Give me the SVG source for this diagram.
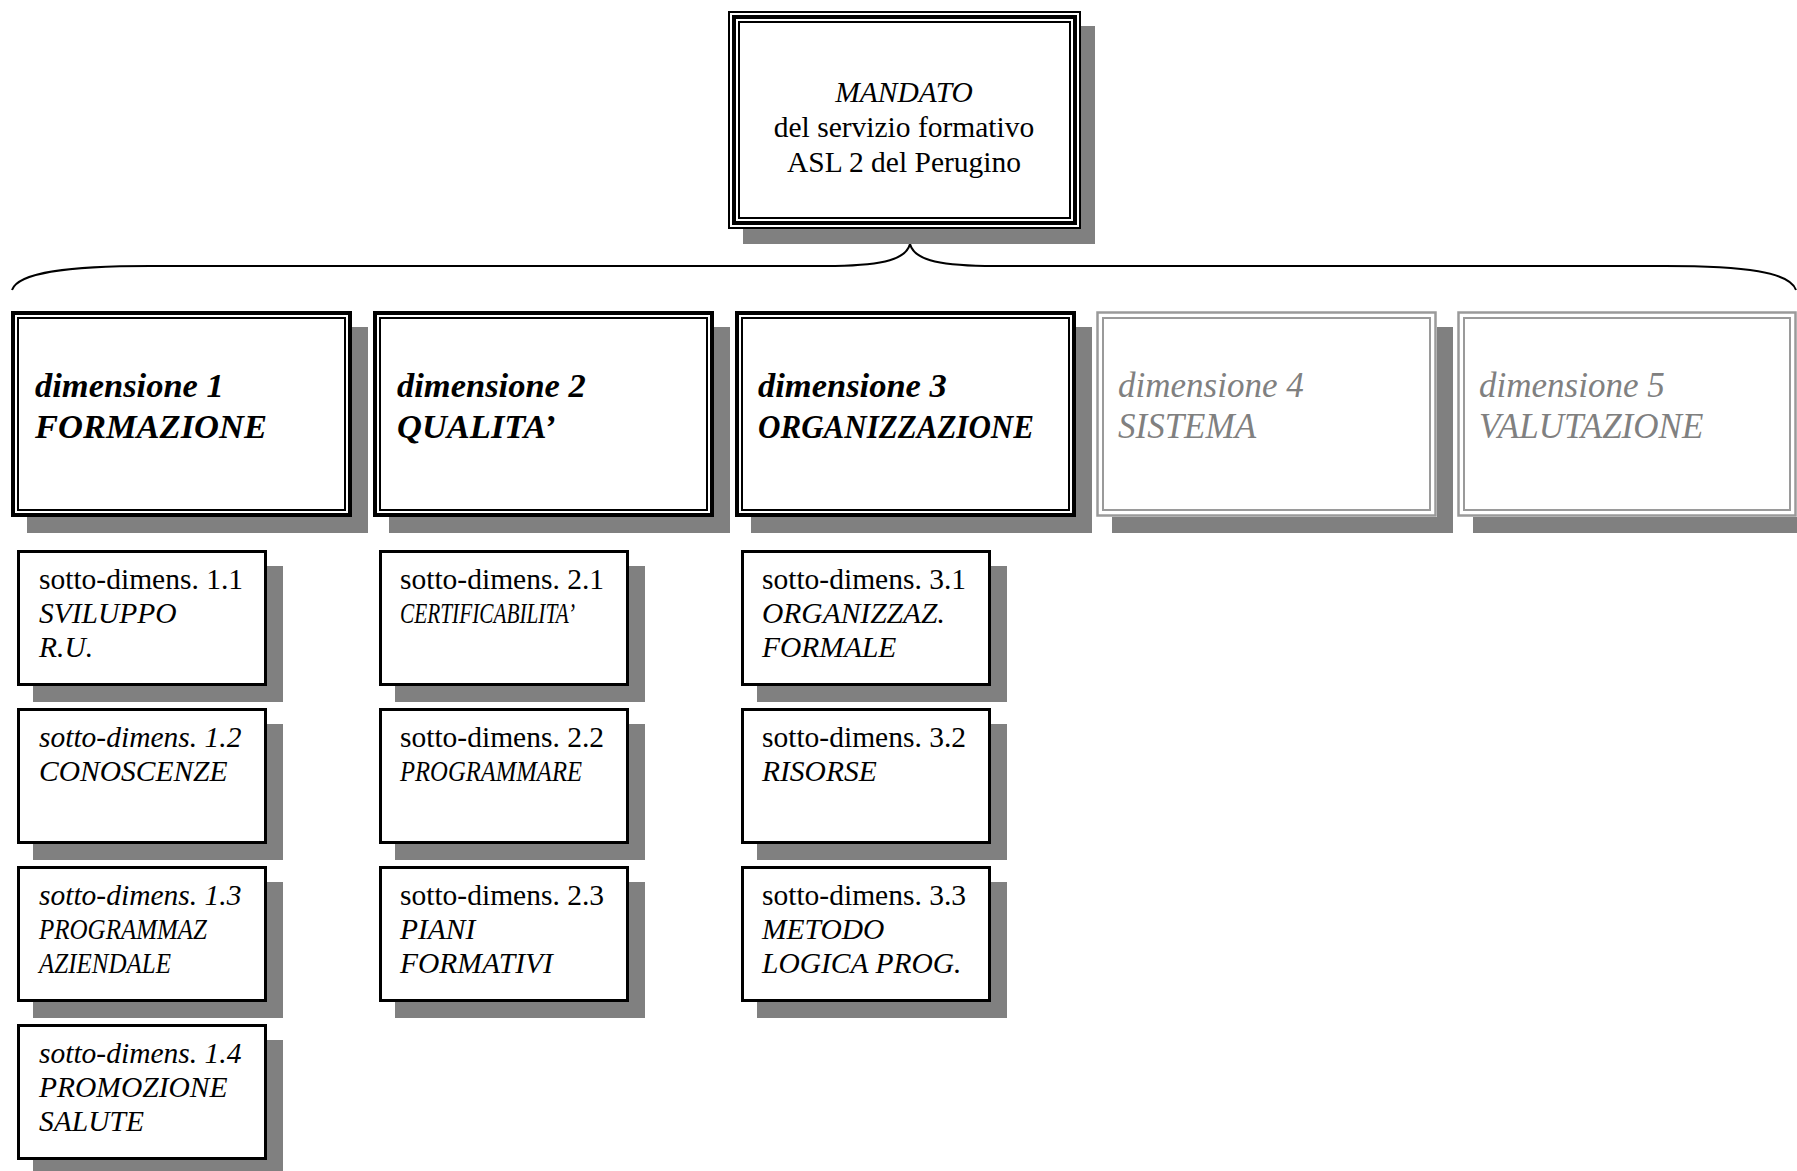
<svg xmlns="http://www.w3.org/2000/svg" width="1797" height="1171" viewBox="0 0 1797 1171">
<style>
text{font-family:"Liberation Serif","Times New Roman",serif;fill:#000}
.shadow{fill:#808080;stroke:none}
.bg{fill:#fff;stroke:none}
.k4{fill:none;stroke:#000;stroke-width:4}
.k2{fill:none;stroke:#000;stroke-width:2}
.g3{fill:none;stroke:#9a9a9a;stroke-width:2.5}
.g2{fill:none;stroke:#9a9a9a;stroke-width:2}
.sb{fill:#fff;stroke:#000;stroke-width:3}
.top{font-size:29.5px;text-anchor:middle}
.dim{font-size:34.5px;font-weight:bold;font-style:italic}
.dimg{font-size:35px;font-style:italic;fill:#808080}
.sub{font-size:29.5px}
.it{font-style:italic}
.brace{fill:none;stroke:#000;stroke-width:2}
</style>

<g id="connectors">
<path class="brace" d="M12,290 C18,272 70,266 150,266 L835,266 C885,265 906,259 910,244 C914,259 935,265 985,266 L1665,266 C1745,266 1790,272 1796,290"/>
</g>

<g id="mandato">
<rect class="shadow" x="743" y="26" width="352" height="218"/>
<rect class="bg" x="728" y="11" width="353" height="218"/>
<rect class="k2" x="729" y="12" width="351" height="216"/>
<rect class="k4" x="734" y="17" width="341" height="206"/>
<rect class="k2" x="739" y="22" width="331" height="196"/>
<text class="top it" x="904" y="102">MANDATO</text>
<text class="top" x="904" y="137">del servizio formativo</text>
<text class="top" x="904" y="172">ASL 2 del Perugino</text>
</g>

<g id="dim1">
<rect class="shadow" x="27" y="327" width="341" height="206"/>
<rect class="bg" x="11" y="311" width="341" height="206"/>
<rect class="k4" x="13" y="313" width="337" height="202"/>
<rect class="k2" x="18" y="318" width="327" height="192"/>
<text class="dim" x="35" y="397">dimensione 1</text>
<text class="dim" x="35" y="438">FORMAZIONE</text>
</g>

<g id="dim2">
<rect class="shadow" x="389" y="327" width="341" height="206"/>
<rect class="bg" x="373" y="311" width="341" height="206"/>
<rect class="k4" x="375" y="313" width="337" height="202"/>
<rect class="k2" x="380" y="318" width="327" height="192"/>
<text class="dim" x="397" y="397">dimensione 2</text>
<text class="dim" x="397" y="438">QUALITA’</text>
</g>

<g id="dim3">
<rect class="shadow" x="751" y="327" width="341" height="206"/>
<rect class="bg" x="735" y="311" width="341" height="206"/>
<rect class="k4" x="737" y="313" width="337" height="202"/>
<rect class="k2" x="742" y="318" width="327" height="192"/>
<text class="dim" x="758" y="397">dimensione 3</text>
<text class="dim" x="758" y="438" textLength="276" lengthAdjust="spacingAndGlyphs">ORGANIZZAZIONE</text>
</g>

<g id="dim4">
<rect class="shadow" x="1112" y="327" width="341" height="206"/>
<rect class="bg" x="1096" y="311" width="341" height="206"/>
<rect class="g3" x="1097.5" y="312.5" width="338" height="203"/>
<rect class="g2" x="1103" y="318" width="327" height="192"/>
<text class="dimg" x="1118" y="397">dimensione 4</text>
<text class="dimg" x="1118" y="438">SISTEMA</text>
</g>

<g id="dim5">
<rect class="shadow" x="1473" y="327" width="341" height="206"/>
<rect class="bg" x="1457" y="311" width="341" height="206"/>
<rect class="g3" x="1458.5" y="312.5" width="337" height="203"/>
<rect class="g2" x="1464" y="318" width="326" height="192"/>
<text class="dimg" x="1479" y="397">dimensione 5</text>
<text class="dimg" x="1479" y="438">VALUTAZIONE</text>
</g>

<g id="sub11">
<rect class="shadow" x="33" y="566" width="250" height="136"/>
<rect class="sb" x="18.5" y="551.5" width="247" height="133"/>
<text class="sub" x="39" y="589">sotto-dimens. 1.1</text>
<text class="sub it" x="39" y="623">SVILUPPO</text>
<text class="sub it" x="39" y="657">R.U.</text>
</g>

<g id="sub12">
<rect class="shadow" x="33" y="724" width="250" height="136"/>
<rect class="sb" x="18.5" y="709.5" width="247" height="133"/>
<text class="sub it" x="39" y="747">sotto-dimens. 1.2</text>
<text class="sub it" x="39" y="781">CONOSCENZE</text>
</g>

<g id="sub13">
<rect class="shadow" x="33" y="882" width="250" height="136"/>
<rect class="sb" x="18.5" y="867.5" width="247" height="133"/>
<text class="sub it" x="39" y="905">sotto-dimens. 1.3</text>
<text class="sub it" x="39" y="939" textLength="168" lengthAdjust="spacingAndGlyphs">PROGRAMMAZ</text>
<text class="sub it" x="39" y="973" textLength="132" lengthAdjust="spacingAndGlyphs">AZIENDALE</text>
</g>

<g id="sub14">
<rect class="shadow" x="33" y="1040" width="250" height="136"/>
<rect class="sb" x="18.5" y="1025.5" width="247" height="133"/>
<text class="sub it" x="39" y="1063">sotto-dimens. 1.4</text>
<text class="sub it" x="39" y="1097">PROMOZIONE</text>
<text class="sub it" x="39" y="1131">SALUTE</text>
</g>

<g id="sub21">
<rect class="shadow" x="395" y="566" width="250" height="136"/>
<rect class="sb" x="380.5" y="551.5" width="247" height="133"/>
<text class="sub" x="400" y="589">sotto-dimens. 2.1</text>
<text class="sub it" x="400" y="623" textLength="175" lengthAdjust="spacingAndGlyphs">CERTIFICABILITA’</text>
</g>

<g id="sub22">
<rect class="shadow" x="395" y="724" width="250" height="136"/>
<rect class="sb" x="380.5" y="709.5" width="247" height="133"/>
<text class="sub" x="400" y="747">sotto-dimens. 2.2</text>
<text class="sub it" x="400" y="781" textLength="182" lengthAdjust="spacingAndGlyphs">PROGRAMMARE</text>
</g>

<g id="sub23">
<rect class="shadow" x="395" y="882" width="250" height="136"/>
<rect class="sb" x="380.5" y="867.5" width="247" height="133"/>
<text class="sub" x="400" y="905">sotto-dimens. 2.3</text>
<text class="sub it" x="400" y="939">PIANI</text>
<text class="sub it" x="400" y="973">FORMATIVI</text>
</g>

<g id="sub31">
<rect class="shadow" x="757" y="566" width="250" height="136"/>
<rect class="sb" x="742.5" y="551.5" width="247" height="133"/>
<text class="sub" x="762" y="589">sotto-dimens. 3.1</text>
<text class="sub it" x="762" y="623">ORGANIZZAZ.</text>
<text class="sub it" x="762" y="657">FORMALE</text>
</g>

<g id="sub32">
<rect class="shadow" x="757" y="724" width="250" height="136"/>
<rect class="sb" x="742.5" y="709.5" width="247" height="133"/>
<text class="sub" x="762" y="747">sotto-dimens. 3.2</text>
<text class="sub it" x="762" y="781">RISORSE</text>
</g>

<g id="sub33">
<rect class="shadow" x="757" y="882" width="250" height="136"/>
<rect class="sb" x="742.5" y="867.5" width="247" height="133"/>
<text class="sub" x="762" y="905">sotto-dimens. 3.3</text>
<text class="sub it" x="762" y="939">METODO</text>
<text class="sub it" x="762" y="973">LOGICA PROG.</text>
</g>
</svg>
